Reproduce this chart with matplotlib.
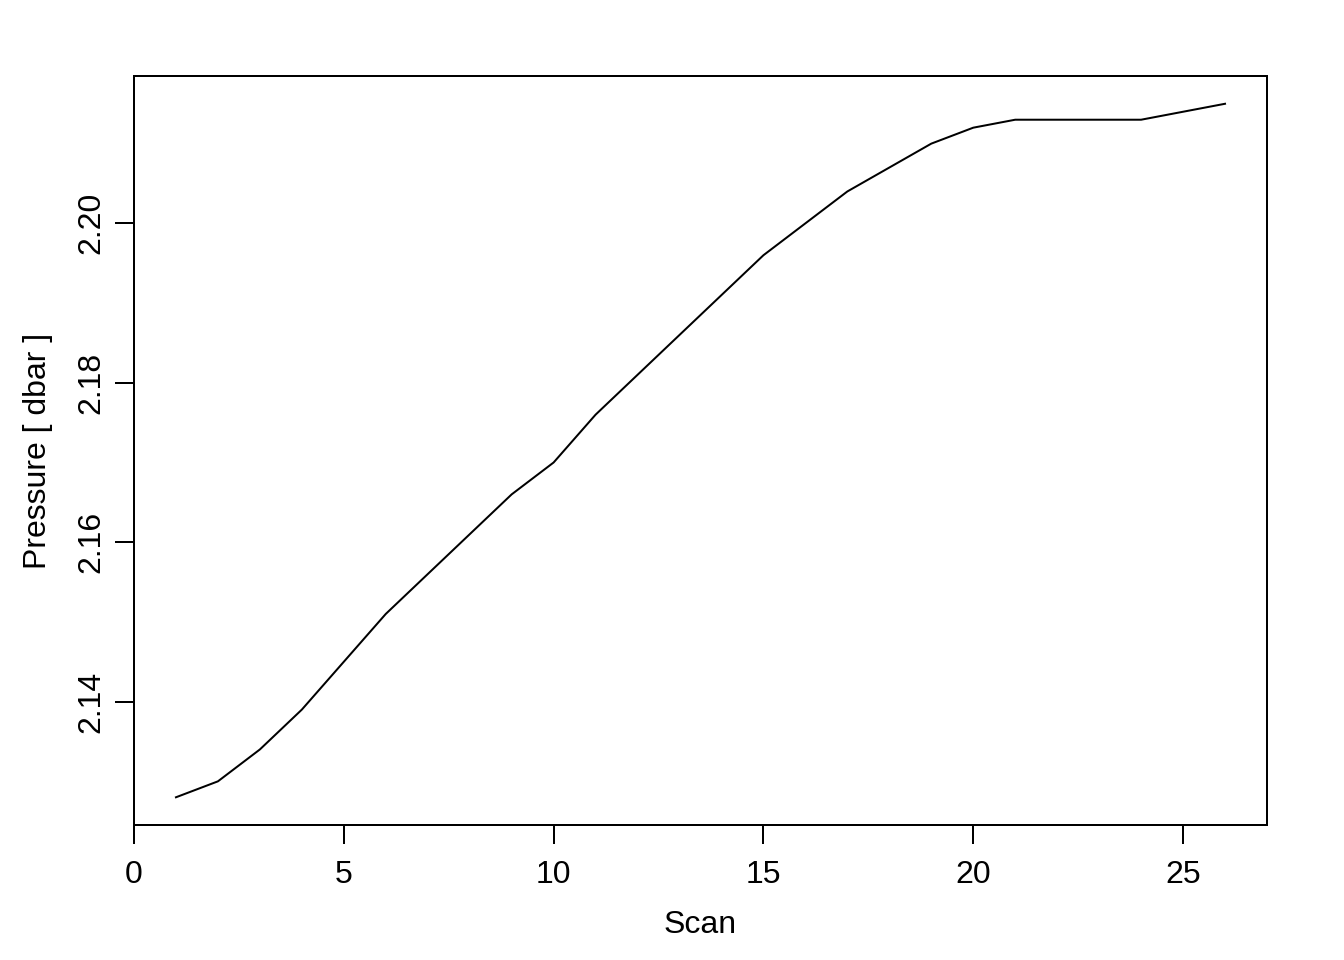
import numpy as np
import matplotlib
matplotlib.use('Agg')
import matplotlib.pyplot as plt

plt.rcParams['font.family'] = ['Liberation Sans', 'DejaVu Sans']

# scan index and pressure
scan = list(range(1, 27))
pressure = [2.128, 2.130, 2.134, 2.139, 2.145, 2.151, 2.156, 2.161, 2.166, 2.170,
            2.176, 2.181, 2.186, 2.191, 2.196, 2.200, 2.204, 2.207, 2.210, 2.212,
            2.213, 2.213, 2.213, 2.213, 2.214, 2.215]
x_ticks = [0, 5, 10, 15, 20, 25]
y_ticks = [2.14, 2.16, 2.18, 2.20]

fig = plt.figure(figsize=(7, 5), dpi=192)
ax = fig.add_axes([0.0997, 0.1406, 0.843, 0.7802])

ax.plot(scan, pressure, color='black', linewidth=0.75)

# R-style axis range: data range extended by 4%
xr = max(scan) - min(scan)
yr = max(pressure) - min(pressure)
ax.set_xlim(min(scan) - 0.04 * xr, max(scan) + 0.04 * xr)
ax.set_ylim(min(pressure) - 0.04 * yr, max(pressure) + 0.04 * yr)

ax.set_xticks(x_ticks)
ax.set_xticklabels([str(t) for t in x_ticks])
ax.set_yticks(y_ticks)
ax.set_yticklabels(['%.2f' % t for t in y_ticks], rotation=90, va='center')

ax.tick_params(direction='out', length=7.2, width=0.75, labelsize=12, pad=6)
ax.tick_params(axis='y', pad=3)
for s in ax.spines.values():
    s.set_linewidth(0.75)

ax.set_xlabel('Scan', fontsize=12, labelpad=7.5)
ax.set_ylabel('Pressure [ dbar ]', fontsize=12, labelpad=9)

fig.savefig('out.png', dpi=192)
